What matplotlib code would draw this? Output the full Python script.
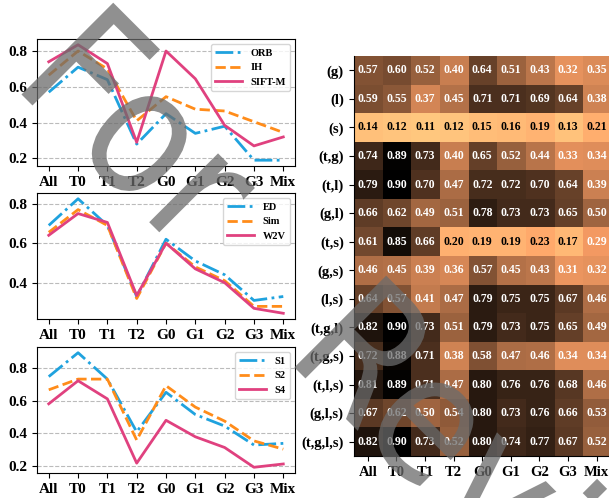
import numpy as np
import matplotlib
matplotlib.use("Agg")
import matplotlib.pyplot as plt
from matplotlib.font_manager import FontProperties
from matplotlib.textpath import TextPath
from matplotlib.patches import PathPatch
from matplotlib.transforms import Affine2D

plt.rcParams['font.family'] = ['Liberation Serif', 'DejaVu Serif']
plt.rcParams['font.weight'] = 'bold'

# x categories shared by all panels
categories = ["All", "T0", "T1", "T2", "G0", "G1", "G2", "G3", "Mix"]

# panel 1: feature extractors
feat_names = ["ORB", "IH", "SIFT-M"]
orb = [0.57, 0.71, 0.64, 0.28, 0.45, 0.34, 0.38, 0.19, 0.19]
ih = [0.665, 0.80, 0.70, 0.41, 0.545, 0.475, 0.465, 0.405, 0.345]
sift_m = [0.74, 0.835, 0.73, 0.29, 0.80, 0.645, 0.385, 0.27, 0.32]

# panel 2: text similarity
text_names = ["ED", "Sim", "W2V"]
ed = [0.69, 0.825, 0.69, 0.33, 0.62, 0.51, 0.44, 0.31, 0.33]
sim = [0.655, 0.77, 0.69, 0.32, 0.60, 0.48, 0.41, 0.28, 0.28]
w2v = [0.64, 0.75, 0.705, 0.335, 0.60, 0.47, 0.40, 0.27, 0.245]

# panel 3: settings
set_names = ["S1", "S2", "S4"]
s1 = [0.745, 0.89, 0.73, 0.41, 0.65, 0.515, 0.445, 0.33, 0.34]
s2 = [0.665, 0.73, 0.73, 0.36, 0.69, 0.56, 0.475, 0.355, 0.305]
s4 = [0.58, 0.72, 0.61, 0.22, 0.48, 0.38, 0.315, 0.195, 0.215]

# heatmap: feature combinations
combos = ["(g)", "(l)", "(s)", "(t,g)", "(t,l)", "(g,l)", "(t,s)", "(g,s)",
          "(l,s)", "(t,g,l)", "(t,g,s)", "(t,l,s)", "(g,l,s)", "(t,g,l,s)"]
acc = np.array([
    [0.57, 0.60, 0.52, 0.40, 0.64, 0.51, 0.43, 0.32, 0.35],
    [0.59, 0.55, 0.37, 0.45, 0.71, 0.71, 0.69, 0.64, 0.38],
    [0.14, 0.12, 0.11, 0.12, 0.15, 0.16, 0.19, 0.13, 0.21],
    [0.74, 0.89, 0.73, 0.40, 0.65, 0.52, 0.44, 0.33, 0.34],
    [0.79, 0.90, 0.70, 0.47, 0.72, 0.72, 0.70, 0.64, 0.39],
    [0.66, 0.62, 0.49, 0.51, 0.78, 0.73, 0.73, 0.65, 0.50],
    [0.61, 0.85, 0.66, 0.20, 0.19, 0.19, 0.23, 0.17, 0.29],
    [0.46, 0.45, 0.39, 0.36, 0.57, 0.45, 0.43, 0.31, 0.32],
    [0.64, 0.57, 0.41, 0.47, 0.79, 0.75, 0.75, 0.67, 0.46],
    [0.82, 0.90, 0.73, 0.51, 0.79, 0.73, 0.75, 0.65, 0.49],
    [0.72, 0.88, 0.71, 0.38, 0.58, 0.47, 0.46, 0.34, 0.34],
    [0.81, 0.89, 0.71, 0.47, 0.80, 0.76, 0.76, 0.68, 0.46],
    [0.67, 0.62, 0.50, 0.54, 0.80, 0.73, 0.76, 0.66, 0.53],
    [0.82, 0.90, 0.73, 0.52, 0.80, 0.74, 0.77, 0.67, 0.52],
])

COLORS = ["#1fa2de", "#ff8c1a", "#e0417f"]
STYLES = ["-.", "--", "-"]


def draw_lines(ax, series, names):
    for vals, name, color, ls in zip(series, names, COLORS, STYLES):
        ax.plot(categories, vals, color=color, ls=ls, lw=2, label=name)
    ax.yaxis.grid(True, ls="--", color="#bbbbbb", lw=0.8)
    ax.set_axisbelow(True)
    ax.legend(loc="upper right", fontsize=7.5, handlelength=2.6)
    ax.tick_params(labelsize=11)


fig = plt.figure(figsize=(6.09, 4.98), dpi=100)

ax1 = fig.add_axes([0.0608, 0.6667, 0.4236, 0.255])
ax2 = fig.add_axes([0.0608, 0.3594, 0.4236, 0.253])
ax3 = fig.add_axes([0.0608, 0.0502, 0.4236, 0.253])
draw_lines(ax1, [orb, ih, sift_m], feat_names)
draw_lines(ax2, [ed, sim, w2v], text_names)
draw_lines(ax3, [s1, s2, s4], set_names)

# heatmap (runs slightly past the right edge, as in the original)
hax = fig.add_axes([0.5805, 0.0843, 0.4228, 0.8032])
hax.imshow(acc, cmap="copper_r", vmin=0.11, vmax=0.90, aspect="auto")
for i in range(acc.shape[0]):
    for j in range(acc.shape[1]):
        v = acc[i, j]
        hax.text(j, i, f"{v:.2f}", ha="center", va="center", fontsize=8.5,
                 color="black" if v < 0.25 else "white")
hax.set_xticks(range(len(categories)), categories)
hax.set_yticks(range(len(combos)), combos)
hax.tick_params(labelsize=10.5)
hax.spines["top"].set_visible(False)
hax.spines["right"].set_visible(False)

# "For Review" watermark
wm_prop = FontProperties(family="DejaVu Sans", weight="normal")
for word, shift in (("For", 0.0), ("Review", 3.86)):
    path = TextPath((0, 0), word, size=1, prop=wm_prop)
    tr = Affine2D().scale(1.58, 1.78).translate(shift, 0).rotate_deg(-45).translate(0.105, 4.145)
    fig.add_artist(PathPatch(path, transform=tr + fig.dpi_scale_trans,
                             facecolor="#6b6b6b", edgecolor="none", alpha=0.75, zorder=10))

fig.savefig("out.png", dpi=100)
